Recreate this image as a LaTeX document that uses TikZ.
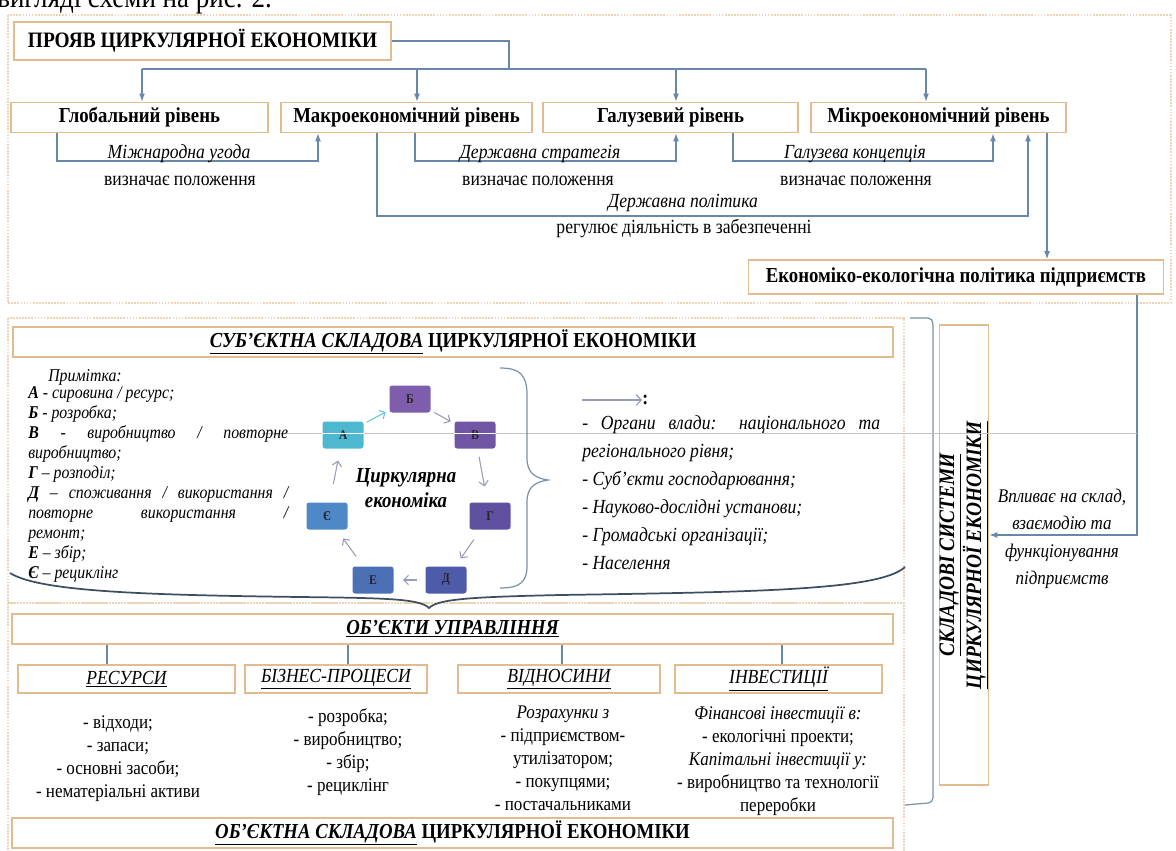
\documentclass[tikz,border=0pt]{standalone}
\usepackage{fontspec}
\setmainfont{Liberation Serif}[FakeStretch=0.88]
\usetikzlibrary{arrows.meta,positioning}

\definecolor{boxtan}{RGB}{226,188,142}
\definecolor{dottan}{RGB}{236,212,182}
\definecolor{linkblue}{RGB}{104,136,170}
\definecolor{bracedark}{RGB}{62,78,96}
\definecolor{bracelight}{RGB}{120,144,168}
\definecolor{cyclegrey}{RGB}{150,156,186}
\definecolor{cyclecyan}{RGB}{104,196,214}
\definecolor{scangrey}{RGB}{196,196,196}
\definecolor{cycA}{RGB}{78,184,208}
\definecolor{cycB}{RGB}{126,94,172}
\definecolor{cycV}{RGB}{114,86,166}
\definecolor{cycG}{RGB}{96,80,160}
\definecolor{cycD}{RGB}{78,90,170}
\definecolor{cycE}{RGB}{76,112,182}
\definecolor{cycYe}{RGB}{78,136,198}

\newdimen\pxu \pxu=0.75pt
\newdimen\legw \legw=195pt
\newcommand{\ulit}[1]{\underline{\textit{#1}}}

\begin{document}
\begin{tikzpicture}[x=0.75pt,y=-0.75pt,
    tanbox/.style={draw=boxtan,line width=1.4pt,fill=white,inner sep=0pt},
    dotbox/.style={draw=dottan,line width=1.3pt,densely dotted},
    link/.style={draw=linkblue,line width=0.8pt},
    linkarrow/.style={link,-{Latex[length=6pt,width=4.5pt]}},
    cycbox/.style={rounded corners=2pt,minimum width=41\pxu,minimum height=27\pxu,
        inner sep=0pt,text=black!85,font=\fontsize{10}{10}\selectfont\bfseries},
    cycarrow/.style={draw=cyclegrey,line width=0.8pt,
        -{Straight Barb[length=3.5pt,width=7pt]}},
    boxfont/.style={font=\fontsize{16}{18}\selectfont\bfseries},
    labelit/.style={font=\fontsize{15}{17}\selectfont\itshape},
    labelrm/.style={font=\fontsize{15}{17}\selectfont},
    listrm/.style={font=\fontsize{14.5}{17.25}\selectfont,align=center,anchor=north,inner sep=0pt},
    every node/.style={inner sep=1pt}
  ]
\useasboundingbox (0,0) rectangle (1176,850);

% text cut by the top edge
\node[anchor=base west,inner sep=0pt,font=\fontsize{23}{26}\selectfont] (cuttext) at (-3,7) {вигляді схеми на рис. 2.};

% section frames
\draw[dotbox] (8,15) rectangle (1171,303);
\draw[dotbox] (8,318) rectangle (904,603);
\draw[dotbox] (8,603) rectangle (904,856);

% ---- manifestation levels
\node[tanbox,boxfont,font=\fontsize{16.5}{18}\selectfont\bfseries,minimum width=377\pxu,minimum height=38\pxu] (title) at (202.5,41) {ПРОЯВ ЦИРКУЛЯРНОЇ ЕКОНОМІКИ};
\node[tanbox,boxfont,minimum width=257\pxu,minimum height=30\pxu] (glob) at (139.5,117.5) {Глобальний рівень};
\node[tanbox,boxfont,minimum width=251\pxu,minimum height=30\pxu] (makro) at (406.5,117.5) {Макроекономічний рівень};
\node[tanbox,boxfont,minimum width=255\pxu,minimum height=30\pxu] (galuz) at (670.5,117.5) {Галузевий рівень};
\node[tanbox,boxfont,minimum width=255\pxu,minimum height=30\pxu] (mikro) at (938.5,117.5) {Мікроекономічний рівень};
\node[tanbox,boxfont,minimum width=415\pxu,minimum height=34\pxu] (ekopol) at (956,277) {Економіко-екологічна політика підприємств};

\coordinate (bus) at (509,69);
\draw[link] (title.east) -| (bus);
\draw[link] (142,69) -- (926,69);
\foreach \ax/\n in {142/glob,417/makro,676/galuz,926/mikro}
  \draw[linkarrow] (\ax,69) -- (\ax,0 |- \n.north);

\draw[linkarrow] (57,0 |- glob.south) -- (57,161) -- (318,161) -- (318,0 |- makro.south);
\draw[linkarrow] (415,0 |- makro.south) -- (415,161) -- (676,161) -- (676,0 |- galuz.south);
\draw[linkarrow] (733,0 |- galuz.south) -- (733,161) -- (993,161) -- (993,0 |- mikro.south);
\draw[linkarrow] (377,0 |- makro.south) -- (377,216) -- (1028,216) -- (1028,0 |- mikro.south);
\draw[linkarrow] (1047,0 |- mikro.south) -- (1047,0 |- ekopol.north);

\node[labelit] (lintl) at (179,154) {Міжнародна угода};
\node[labelrm] (lintlb) at (180,181) {визначає положення};
\node[labelit] (lstrat) at (540,154) {Державна стратегія};
\node[labelrm] (lstratb) at (538,181) {визначає положення};
\node[labelit] (lconc) at (855,154) {Галузева концепція};
\node[labelrm] (lconcb) at (856,181) {визначає положення};
\node[labelit] (lpol) at (683,203) {Державна політика};
\node[labelrm] (lpolb) at (684,228) {регулює діяльність в забезпеченні};

% ---- components of the system
\node[tanbox,minimum width=460\pxu,minimum height=48\pxu,rotate=90,align=center,
      font=\fontsize{16.5}{18}\selectfont\bfseries\itshape] (vbox) at (964,555)
      {\underline{СКЛАДОВІ СИСТЕМИ}\\\underline{ЦИРКУЛЯРНОЇ ЕКОНОМІКИ}};
\draw[bracelight,line width=0.9pt] (910,318) -- (928,318) to[out=0,in=90] (933,324)
   -- (933,798) to[out=-90,in=0] (928,803) -- (905,805);
\draw[linkarrow] (1137,0 |- ekopol.south) -- (1137,535) -- (vbox.south |- 0,535);
\node[labelit,align=center,font=\fontsize{14.5}{20.5}\selectfont\itshape] (vpliv) at (1062,539)
   {Впливає на склад,\\взаємодію та\\функціонування\\підприємств};

% ---- subject part
\node[tanbox,boxfont,minimum width=880\pxu,minimum height=30\pxu] (subj) at (453,342)
   {\ulit{СУБ’ЄКТНА СКЛАДОВА} ЦИРКУЛЯРНОЇ ЕКОНОМІКИ};

\draw[scangrey,line width=0.5pt] (262,433) -- (1137,433);

\node[font=\fontsize{13.5}{15}\selectfont\itshape] (note) at (85,377) {Примітка:};
\node[anchor=north west,inner sep=0pt,align=left,font=\fontsize{13.5}{15}\selectfont\itshape] (legend) at (28,386) {%
  \textbf{А} - сировина / ресурс;\\
  \textbf{Б} - розробка;\\
  \makebox[\legw][s]{\textbf{В} - виробництво / повторне}\\
  виробництво;\\
  \textbf{Г} – розподіл;\\
  \makebox[\legw][s]{\textbf{Д} – споживання / використання /}\\
  \makebox[\legw][s]{повторне використання /}\\
  ремонт;\\
  \textbf{Е} – збір;\\
  \textbf{Є} – рециклінг};

% cycle
\node[cycbox,fill=cycB] (cB) at (410,399) {Б};
\node[cycbox,fill=cycV] (cV) at (475,435) {В};
\node[cycbox,fill=cycG] (cG) at (490,516) {Г};
\node[cycbox,fill=cycD] (cD) at (446,580) {Д};
\node[cycbox,fill=cycE] (cE) at (373,580) {Е};
\node[cycbox,fill=cycYe] (cYe) at (327,516) {Є};
\node[cycbox,fill=cycA] (cA) at (343,435) {А};
\draw[white,line width=0.6pt] (cA.west |- 0,433) -- (cA.east |- 0,433);
\draw[white,line width=0.6pt] (cV.west |- 0,433) -- (cV.east |- 0,433);
\node[align=center,font=\fontsize{16}{19}\selectfont\bfseries\itshape] (circ) at (406,488) {Циркулярна\\економіка};

\draw[cycarrow,draw=cyclecyan,shorten <=2.5pt,shorten >=3pt] (cA) -- (cB);
\draw[cycarrow,shorten <=3pt,shorten >=3pt] (cB) -- (cV);
\draw[cycarrow,shorten <=6pt,shorten >=12pt] (cV) -- (cG);
\draw[cycarrow,shorten <=9pt,shorten >=7pt] (cG) -- (cD);
\draw[cycarrow,shorten <=6pt,shorten >=7pt] (cD) -- (cE);
\draw[cycarrow,shorten <=9pt,shorten >=8pt] (cE) -- (cYe);
\draw[cycarrow,shorten <=14pt,shorten >=9pt] (cYe) -- (cA);

\draw[bracelight,line width=0.9pt] (500,368) .. controls (520,368) and (527,375) .. (527,395)
   -- (527,458) .. controls (527,473) and (535,478) .. (548,480)
   .. controls (535,482) and (527,487) .. (527,502) -- (527,566)
   .. controls (527,582) and (520,588) .. (500,588);

\coordinate (subjarrow) at (582,400);
\draw[cyclegrey,line width=0.8pt,-{Straight Barb[length=4pt,width=8pt]}] (subjarrow) -- ++(60,0) coordinate (subjend);
\node[anchor=west,inner sep=0pt,font=\fontsize{15}{17}\selectfont\bfseries] (colon) at (subjend) {:};

\node[anchor=north west,inner sep=0pt,align=left,font=\fontsize{15}{21}\selectfont\itshape] (actors) at (582,415) {%
  \makebox[298\pxu][s]{- Органи влади: національного та}\\
  регіонального рівня;\\
  - Суб’єкти господарювання;\\
  - Науково-дослідні установи;\\
  - Громадські організації;\\
  - Населення};

\draw[bracedark,line width=1.3pt] (10,573) .. controls (40,592) and (150,595) .. (300,597)
   .. controls (390,598) and (420,599) .. (429,608)
   .. controls (438,599) and (470,597) .. (560,595)
   .. controls (760,592) and (880,590) .. (905,567);

% ---- object part
\node[tanbox,minimum width=881\pxu,minimum height=30\pxu,font=\fontsize{16}{18}\selectfont\bfseries\itshape] (obj) at (452.5,629) {\underline{ОБ’ЄКТИ УПРАВЛІННЯ}};
\node[tanbox,minimum width=217\pxu,minimum height=28\pxu,font=\fontsize{15}{17}\selectfont\itshape] (res) at (126.5,679) {\underline{РЕСУРСИ}};
\node[tanbox,minimum width=182\pxu,minimum height=28\pxu,font=\fontsize{15}{17}\selectfont\itshape] (biz) at (336,679) {\underline{БІЗНЕС-ПРОЦЕСИ}};
\node[tanbox,minimum width=202\pxu,minimum height=28\pxu,font=\fontsize{15}{17}\selectfont\itshape] (vid) at (559,679) {\underline{ВІДНОСИНИ}};
\node[tanbox,minimum width=207\pxu,minimum height=28\pxu,font=\fontsize{15}{17}\selectfont\itshape] (inv) at (778.5,679) {\underline{ІНВЕСТИЦІЇ}};
\foreach \ax/\n in {107/res,348/biz,562/vid,782/inv}
  \draw[link] (\ax,0 |- obj.south) -- (\ax,0 |- \n.north);

\node[listrm] (reslist) at (118,715) {- відходи;\\- запаси;\\- основні засоби;\\- нематеріальні активи};
\node[listrm] (bizlist) at (348,708) {- розробка;\\- виробництво;\\- збір;\\- рециклінг};
\node[listrm] (vidlist) at (563,706) {\textit{Розрахунки з}\\- підприємством-\\утилізатором;\\- покупцями;\\- постачальниками};
\node[listrm] (invlist) at (778,706) {\textit{Фінансові інвестиції в:}\\- екологічні проекти;\\\textit{Капітальні інвестиції у:}\\- виробництво та технології\\переробки};

\node[tanbox,boxfont,minimum width=881\pxu,minimum height=30\pxu] (objpart) at (452.5,833)
   {\ulit{ОБ’ЄКТНА СКЛАДОВА} ЦИРКУЛЯРНОЇ ЕКОНОМІКИ};
\end{tikzpicture}
\end{document}
